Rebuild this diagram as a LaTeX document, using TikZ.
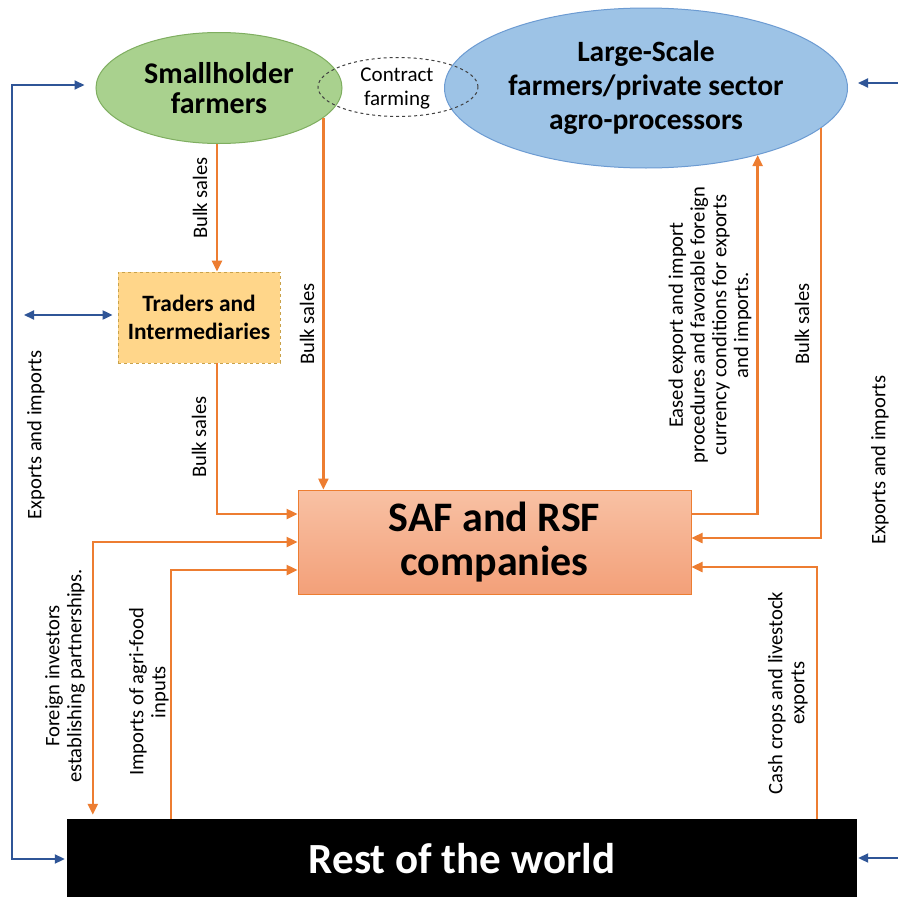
\documentclass[tikz,border=0pt]{standalone}
\usepackage{fontspec}
\setmainfont{Carlito}
\usetikzlibrary{shapes.geometric,arrows.meta,calc}
\definecolor{flow}{HTML}{ED7D31}
\definecolor{trade}{HTML}{2F5597}
\definecolor{smallfill}{HTML}{A9D18E}
\definecolor{smalledge}{HTML}{7FAE60}
\definecolor{largefill}{HTML}{9DC3E6}
\definecolor{largeedge}{HTML}{6C9BD2}
\definecolor{traderfill}{HTML}{FFD68A}
\definecolor{traderedge}{HTML}{C9A24A}
\definecolor{saftop}{HTML}{F8C1A4}
\definecolor{safbottom}{HTML}{F3A079}
\begin{document}
\begin{tikzpicture}[x=1pt,y=-1pt,
  actor/.style={ellipse,inner sep=0pt,font=\bfseries},
  flowline/.style={draw=flow,line width=2.4pt,-{Triangle[length=11pt,width=10pt]}},
  flowboth/.style={draw=flow,line width=2.4pt,{Triangle[length=11pt,width=10pt]}-{Triangle[length=11pt,width=10pt]}},
  tradeline/.style={draw=trade,line width=2pt,-{Triangle[length=10pt,width=9pt]}},
  tradeboth/.style={draw=trade,line width=2pt,{Triangle[length=10pt,width=9pt]}-{Triangle[length=10pt,width=9pt]}},
  flowlabel/.style={rotate=90,font=\fontsize{20.6}{22}\selectfont,align=center,inner sep=0pt},
]
\useasboundingbox (0,0) rectangle (898,897);
\fill[white] (0,0) rectangle (898,897);

% actors
\node[actor,fill=smallfill,draw=smalledge,line width=1pt,
      minimum width=246pt,minimum height=111pt,align=center,
      font=\bfseries\fontsize{30}{30}\selectfont] (sh) at (219,88) {Smallholder\\farmers};
\node[actor,fill=largefill,draw=largeedge,line width=1pt,
      minimum width=403pt,minimum height=160pt,align=center,
      font=\bfseries\fontsize{29.5}{34}\selectfont] (lg) at (646,88)
      {Large-Scale\\farmers/private sector\\agro-processors};
\node[ellipse,draw=black!75,dashed,line width=1pt,inner sep=0pt,
      minimum width=160pt,minimum height=59pt] (cf) at (398,87) {};
\node[align=center,font=\fontsize{21}{24}\selectfont,inner sep=0pt] (cft) at (397,88) {Contract\\farming};

\node[rectangle,fill=traderfill,draw=traderedge,dashed,line width=0.8pt,
      minimum width=162pt,minimum height=91pt,inner sep=0pt,align=center,
      font=\bfseries\fontsize{23.4}{28}\selectfont] (tr) at (199,317.5) {Traders and\\Intermediaries};

\node[rectangle,top color=saftop,bottom color=safbottom,draw=flow,line width=1pt,
      minimum width=393pt,minimum height=104pt,inner sep=0pt,align=center,
      font=\bfseries\fontsize{42}{44}\selectfont] (saf) at (494.5,542) {SAF and RSF\\companies};

\node[rectangle,fill=black,text=white,minimum width=790pt,minimum height=80pt,inner sep=0pt,
      font=\bfseries\fontsize{43}{44}\selectfont] (row) at (462,859) {Rest of the world};

% free ends of the trade links
\coordinate (lb) at (12,400);
\coordinate (tl) at (24,315);
\coordinate (rt1) at (905,83);
\coordinate (rt2) at (905,858);

% trade with the rest of the world
\draw[tradeboth] ([xshift=-2pt]row.west) -| (lb) |- ([xshift=-11pt,yshift=3pt]sh.west);
\draw[tradeboth] (tl) -- ([xshift=-5pt,yshift=2.5pt]tr.west);
\draw[tradeline] (rt1) -- ([xshift=10pt,yshift=5pt]lg.east);
\draw[tradeline] (rt2) -- ([xshift=1pt]row.east |- rt2);

% domestic flows
\draw[flowline] ([xshift=-2pt]sh.south) -- ([xshift=18pt]tr.north);
\draw[flowline] (sh.-16) -- (sh.-16 |- saf.north);
\draw[flowline] ([xshift=18pt]tr.south) |- ([yshift=28pt]saf.west);
\draw[flowboth] (saf.west) -| ([xshift=26pt,yshift=4pt]row.north west);
\draw[flowline] ([xshift=104pt]row.north west) |- ([yshift=-28pt]saf.west);
\draw[flowline] ([yshift=28pt]saf.east) -| (lg.-31);
\draw[flowline] (lg.-13) |- ([yshift=4pt]saf.east);
\draw[flowline] ([xshift=-40pt]row.north east) |- ([yshift=-25pt]saf.east);

% flow labels
\node[flowlabel] (l1) at (200,198) {Bulk sales};
\node[flowlabel] (l2) at (307,324) {Bulk sales};
\node[flowlabel] (l3) at (199,437) {Bulk sales};
\node[flowlabel] (l4) at (802,324) {Bulk sales};
\node[flowlabel] (l5) at (36,435) {Exports and imports};
\node[flowlabel] (l6) at (880,460) {Exports and imports};
\node[flowlabel,font=\fontsize{20.6}{21.7}\selectfont] (l7) at (710,325)
  {Eased export and import\\procedures  and favorable foreign\\currency conditions for exports\\and imports.};
\node[flowlabel] (l8) at (65,676) {Foreign investors\\establishing partnerships.};
\node[flowlabel] (l9) at (149,692) {Imports of agri-food\\inputs};
\node[flowlabel] (l10) at (788,693) {Cash crops  and livestock\\exports};
\end{tikzpicture}
\end{document}
